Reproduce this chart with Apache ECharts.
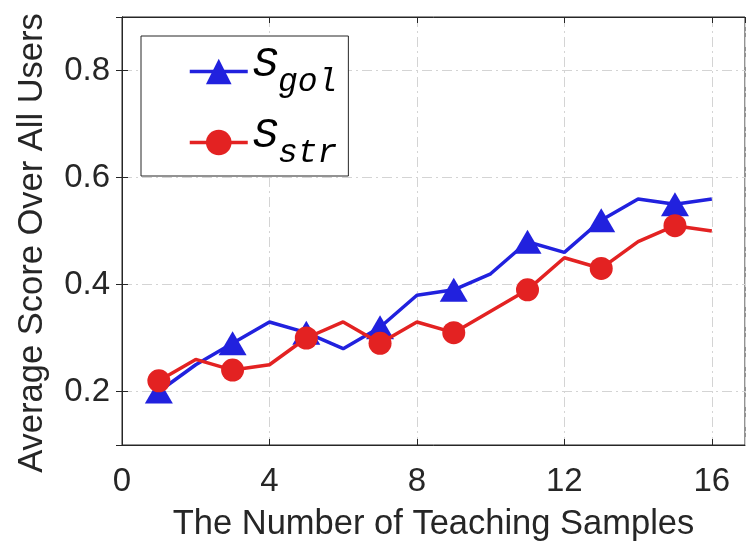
<!DOCTYPE html>
<html>
<head>
<meta charset="utf-8">
<script src="https://cdn.jsdelivr.net/npm/echarts@6/dist/echarts.min.js"></script>
<style>
  html, body { margin: 0; padding: 0; background: #fff; }
  #chart { width: 746px; height: 553px; }
</style>
</head>
<body>
<div id="chart"></div>
<script>
// Number of teaching samples (x) and average scores per strategy
const samples = [1, 2, 3, 4, 5, 6, 7, 8, 9, 10, 11, 12, 13, 14, 15, 16];
const scoreGol = [0.20, 0.25, 0.29, 0.33, 0.31, 0.28, 0.32, 0.38, 0.39, 0.42, 0.48, 0.46, 0.52, 0.56, 0.55, 0.56];
const scoreStr = [0.22, 0.26, 0.24, 0.25, 0.30, 0.33, 0.29, 0.33, 0.31, 0.35, 0.39, 0.45, 0.43, 0.48, 0.51, 0.50];
const seriesNames = ['gol', 'str'];
const xTickStep = 4;

const axisColor = '#262626';
const gridDash = [10, 4, 2, 4];

// markers only on odd sample counts
function toPoints(values, symbol) {
  return samples.map((x, i) => ({
    value: [x, values[i]],
    symbol: x % 2 === 1 ? symbol : 'none'
  }));
}

const chart = echarts.init(document.getElementById('chart'), null, { renderer: 'canvas' });

const tickFont = { fontFamily: 'Liberation Sans', fontSize: 33, color: axisColor };
const nameFont = { fontFamily: 'Liberation Sans', fontSize: 34.5, color: axisColor };

chart.setOption({
  animation: false,
  backgroundColor: '#fff',
  grid: {
    left: 122, right: 1, top: 17, bottom: 108,
    show: true, borderColor: axisColor, borderWidth: 1, backgroundColor: '#fff'
  },
  legend: {
    orient: 'vertical',
    left: 141, top: 36,
    padding: [8, 11, 6, 47],
    itemGap: 16,
    itemWidth: 58,
    itemHeight: 32,
    borderColor: axisColor,
    borderWidth: 1,
    backgroundColor: '#fff',
    lineStyle: { width: 3.5 },
    data: seriesNames,
    formatter: name => '{s|S}{sub|' + name + '}',
    textStyle: {
      padding: [0, 0, 0, 0],
      rich: {
        s: { fontFamily: 'Liberation Mono', fontStyle: 'italic', fontSize: 42, color: '#000', verticalAlign: 'top', lineHeight: 40 },
        sub: { fontFamily: 'Liberation Mono', fontStyle: 'italic', fontSize: 33, color: '#000', verticalAlign: 'bottom', padding: [22, 0, 0, 0] }
      }
    }
  },
  xAxis: [{
    type: 'value', min: 0, max: 16.9, interval: xTickStep,
    name: 'The Number of Teaching Samples',
    nameLocation: 'middle', nameGap: 62,
    nameTextStyle: nameFont,
    axisLine: { show: true, lineStyle: { color: axisColor, width: 1 } },
    axisTick: { show: true, inside: true, length: 6, lineStyle: { color: axisColor } },
    axisLabel: Object.assign({ margin: 20, showMaxLabel: false }, tickFont),
    splitLine: { show: true, lineStyle: { color: '#d4d4d4', width: 1, type: gridDash } }
  }, {
    type: 'value', min: 0, max: 16.9, interval: xTickStep, position: 'top',
    axisLine: { show: true, lineStyle: { color: axisColor, width: 1 } },
    axisTick: { show: true, inside: true, length: 6, lineStyle: { color: axisColor } },
    axisLabel: { show: false },
    splitLine: { show: false }
  }],
  yAxis: [{
    type: 'value', min: 0.1, max: 0.9,
    name: 'Average Score Over All Users',
    nameLocation: 'middle', nameGap: 72,
    nameTextStyle: Object.assign({ padding: [0, 24, 0, 0] }, nameFont),
    axisLine: { show: true, lineStyle: { color: axisColor, width: 1 } },
    axisTick: { show: true, inside: true, length: 6, lineStyle: { color: axisColor } },
    axisLabel: Object.assign({ margin: 12, showMinLabel: false, showMaxLabel: false, formatter: v => v.toFixed(1) }, tickFont),
    splitLine: { show: true, lineStyle: { color: '#d4d4d4', width: 1, type: gridDash } }
  }, {
    type: 'value', min: 0.1, max: 0.9, position: 'right',
    axisLine: { show: true, lineStyle: { color: axisColor, width: 1 } },
    axisTick: { show: true, inside: true, length: 6, lineStyle: { color: axisColor } },
    axisLabel: { show: false },
    splitLine: { show: false }
  }],
  series: [{
    name: 'gol',
    type: 'line',
    data: toPoints(scoreGol, 'triangle'),
    symbol: 'triangle',
    symbolSize: [28, 24],
    color: '#2121de',
    lineStyle: { width: 3.5, color: '#2121de' },
    itemStyle: { color: '#2121de' },
    z: 3
  }, {
    name: 'str',
    type: 'line',
    data: toPoints(scoreStr, 'circle'),
    symbol: 'circle',
    symbolSize: 23,
    color: '#e32222',
    lineStyle: { width: 3.5, color: '#e32222' },
    itemStyle: { color: '#e32222' },
    z: 4
  }]
});
</script>
</body>
</html>
